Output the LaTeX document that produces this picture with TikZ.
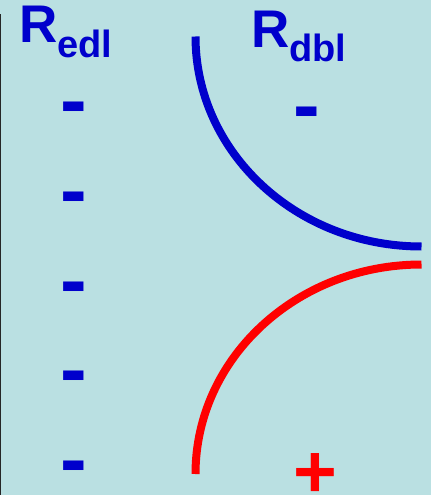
\documentclass[tikz,border=0pt]{standalone}
\usepackage{xcolor}
\usepackage{fontspec}
\setmainfont{Liberation Sans}
\usepackage{tikz}
\usetikzlibrary{positioning}
\definecolor{bgblue}{RGB}{186,224,226}
\definecolor{chargeblue}{RGB}{0,0,204}
\definecolor{chargered}{RGB}{255,0,0}
\tikzset{
  x=1pt, y=1pt,
  every node/.style = {inner sep=0pt, outer sep=0pt},
  rlabel/.style     = {font=\fontsize{53}{53}\selectfont\bfseries, text=chargeblue, anchor=base west},
  minus/.style      = {font=\fontsize{80}{80}\selectfont\bfseries, text=chargeblue, anchor=north},
  plus/.style       = {font=\fontsize{75}{75}\selectfont\bfseries, text=chargered, anchor=north},
  layer/.style      = {line width=8pt, line cap=butt}
}
\newcommand{\sublab}[1]{\raisebox{-14pt}{\fontsize{38}{38}\selectfont #1}}

\begin{document}
\begin{tikzpicture}
  % background and frame edge
  \fill[bgblue] (0,0) rectangle (431,-495);
  \useasboundingbox (0,0) rectangle (431,-495);
  \fill[black!85] (0,-14) rectangle (1.4,-495);
  % layer boundaries
  \draw[layer, chargeblue] (195.5,-36.5) arc[start angle=180, end angle=270, x radius=226, y radius=210];
  \draw[layer, chargered] (421.5,-264.5) arc[start angle=90, end angle=180, x radius=226, y radius=209.5];
  % labels
  \node[rlabel] (edl) at (19,-43) {R\sublab{edl}};
  \node[rlabel] (dbl) at (251,-48) {R\sublab{dbl}};
  % charges
  \node[minus] (m1) at (73.5,-102) {-};
  \node[minus] (m2) at (73.5,-192) {-};
  \node[minus] (m3) at (73.5,-282) {-};
  \node[minus] (m4) at (73.5,-371) {-};
  \node[minus] (m5) at (73.5,-461) {-};
  \node[minus] (m6) at (306.5,-107) {-};
  \node[plus] (p1) at (315,-454) {+};
\end{tikzpicture}
\end{document}
